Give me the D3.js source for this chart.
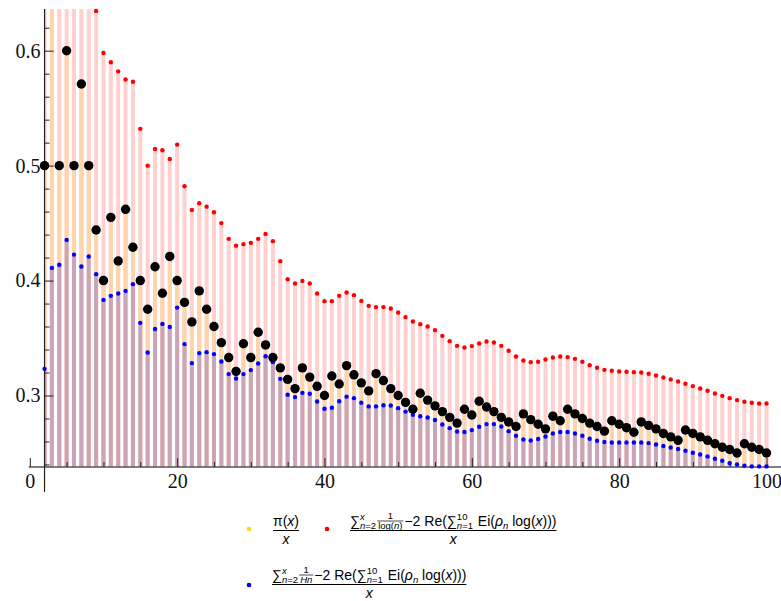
<!DOCTYPE html>
<html>
<head>
<meta charset="utf-8">
<script src="https://cdn.jsdelivr.net/npm/d3@7"></script>
<style>
  body { margin: 0; background: #fff; }
  text { white-space: pre; }
  .tick text { font-family: "Liberation Serif", "DejaVu Serif", serif; }
</style>
</head>
<body>
<svg width="781" height="601"></svg>
<script>
// x values: n = 2 .. 100
const ns = d3.range(2, 101);

// pi(x)/x
const primeRatio = [
  0.5, 0.667, 0.5, 0.6, 0.5, 0.571, 0.5, 0.444, 0.4,
  0.455, 0.417, 0.462, 0.429, 0.4, 0.375, 0.412, 0.389, 0.421, 0.4,
  0.381, 0.364, 0.391, 0.375, 0.36, 0.346, 0.333, 0.321, 0.345, 0.333,
  0.355, 0.344, 0.333, 0.324, 0.314, 0.306, 0.324, 0.316, 0.308, 0.3,
  0.317, 0.31, 0.326, 0.318, 0.311, 0.304, 0.319, 0.313, 0.306, 0.3,
  0.294, 0.288, 0.302, 0.296, 0.291, 0.286, 0.281, 0.276, 0.288, 0.283,
  0.295, 0.29, 0.286, 0.281, 0.277, 0.273, 0.284, 0.279, 0.275, 0.271,
  0.282, 0.278, 0.288, 0.284, 0.28, 0.276, 0.273, 0.269, 0.278, 0.275,
  0.272, 0.268, 0.277, 0.274, 0.271, 0.267, 0.264, 0.261, 0.27, 0.267,
  0.264, 0.261, 0.258, 0.255, 0.253, 0.25, 0.258, 0.255, 0.253, 0.25
];

// sum 1/log(n) - 2 Re(sum Ei(rho log x)), over x  (first values are above the plot)
const redVals = [
  0.75, 0.73, 0.71, 0.69, 0.68, 0.665, 0.65, 0.6345, 0.598,
  0.590, 0.582, 0.575, 0.573, 0.532, 0.500, 0.5145, 0.5134, 0.5058, 0.5183,
  0.482, 0.4615, 0.4673, 0.4643, 0.4595, 0.450, 0.4363, 0.4304, 0.4317, 0.4328,
  0.4363, 0.4406, 0.4343, 0.4169, 0.4012, 0.3974, 0.3997, 0.3974, 0.3887, 0.3821,
  0.3821, 0.3867, 0.3896, 0.3873, 0.3823, 0.378, 0.3769, 0.3769, 0.3757, 0.3722,
  0.3682, 0.3644, 0.3621, 0.36, 0.3569, 0.3519, 0.3473, 0.3432, 0.3417, 0.343,
  0.3452, 0.347, 0.3461, 0.3432, 0.3389, 0.3339, 0.3304, 0.329, 0.3293, 0.3313,
  0.333, 0.3339, 0.3334, 0.3319, 0.3293, 0.3264, 0.3241, 0.3223, 0.3215, 0.3209,
  0.3206, 0.3203, 0.32, 0.3189, 0.3174, 0.3157, 0.314, 0.3122, 0.3102, 0.3082,
  0.3061, 0.3041, 0.3018, 0.2997, 0.2977, 0.296, 0.2945, 0.2937, 0.293, 0.293
];

// sum 1/H_n - 2 Re(sum Ei(rho log x)), over x
const blueVals = [
  0.3232, 0.411, 0.4137, 0.4354, 0.4226, 0.4122, 0.4209, 0.4056, 0.3832,
  0.3867, 0.3887, 0.391, 0.3969, 0.3632, 0.3374, 0.3579, 0.3623, 0.3597, 0.3765,
  0.3447, 0.3282, 0.3369, 0.3377, 0.336, 0.3296, 0.3186, 0.3148, 0.3186, 0.3221,
  0.3278, 0.3342, 0.329, 0.3145, 0.3006, 0.2986, 0.3023, 0.3015, 0.2948, 0.2885,
  0.2893, 0.295, 0.299, 0.2977, 0.2938, 0.2905, 0.2905, 0.2915, 0.2913, 0.289,
  0.286, 0.2832, 0.2819, 0.2808, 0.2787, 0.2748, 0.2716, 0.2687, 0.2682, 0.2699,
  0.2728, 0.2751, 0.2751, 0.273, 0.269, 0.265, 0.2617, 0.2609, 0.2621, 0.2643,
  0.267, 0.2682, 0.2682, 0.267, 0.265, 0.2624, 0.2606, 0.2595, 0.2591, 0.2591,
  0.2591, 0.2591, 0.2591, 0.2586, 0.2574, 0.256, 0.2548, 0.2534, 0.2519, 0.2502,
  0.2487, 0.247, 0.245, 0.2432, 0.2412, 0.24, 0.2389, 0.2383, 0.2383, 0.2383
];

const xMajor = [0, 20, 40, 60, 80, 100];
const xMinor = d3.range(5, 100, 5).filter(v => v % 20 !== 0);
const yMajor = [0.3, 0.4, 0.5, 0.6];
const yMinor = [0.24, 0.26, 0.28, 0.32, 0.34, 0.36, 0.38, 0.42, 0.44, 0.46, 0.48, 0.52, 0.54, 0.56, 0.58, 0.62];

const width = 781;
const svg = d3.select('svg');

const x = d3.scaleLinear().domain([0, 100]).range([29.8, 766.5]);
const y = d3.scaleLinear().domain([0.3, 0.6]).range([395.5, 50.7]);
const yBottom = 467, yTop = 9;
const axisX = x(2);
const vLow = y.invert(yBottom + 3), vHigh = y.invert(yTop);

svg.append('defs').append('clipPath').attr('id', 'plot')
  .append('rect')
  .attr('x', axisX).attr('y', yTop)
  .attr('width', width - axisX).attr('height', yBottom - yTop);

function bars(vals, color) {
  svg.append('g')
    .attr('clip-path', 'url(#plot)')
    .selectAll('rect')
    .data(ns)
    .join('rect')
    .attr('x', n => x(n) - 2)
    .attr('width', 4)
    .attr('y', (n, i) => y(vals[i]))
    .attr('height', (n, i) => Math.max(0, yBottom - y(vals[i])))
    .attr('fill', color);
}

bars(redVals, '#ffd0d0');
bars(primeRatio, '#ffd4aa');
bars(blueVals, '#cca4b8');

// axes
const axes = svg.append('g');
axes.append('line')
  .attr('x1', x(0) - 1).attr('x2', width).attr('y1', yBottom).attr('y2', yBottom)
  .attr('stroke', '#555').attr('stroke-width', 1.6);
axes.append('line')
  .attr('x1', axisX).attr('x2', axisX).attr('y1', yTop).attr('y2', 492)
  .attr('stroke', '#222').attr('stroke-width', 1.2);

const xAxis = d3.axisBottom(x).tickValues(xMajor).tickSize(-9).tickSizeOuter(0).tickPadding(7);
const gx = axes.append('g').attr('transform', `translate(0,${yBottom})`).call(xAxis);
const gxm = axes.append('g').attr('transform', `translate(0,${yBottom})`)
  .call(d3.axisBottom(x).tickValues(xMinor).tickSize(-5).tickSizeOuter(0).tickFormat(''));

const yAxis = d3.axisLeft(y).tickValues(yMajor).tickSize(-9).tickSizeOuter(0).tickPadding(4)
  .tickFormat(d3.format('.1f'));
const gy = axes.append('g').attr('transform', `translate(${axisX},0)`).call(yAxis);
const gym = axes.append('g').attr('transform', `translate(${axisX},0)`)
  .call(d3.axisLeft(y).tickValues(yMinor).tickSize(-5).tickSizeOuter(0).tickFormat(''));

[gx, gxm, gy, gym].forEach(g => {
  g.attr('font-family', null).attr('font-size', null);
  g.select('.domain').remove();
  g.selectAll('line').attr('stroke', '#222');
  g.selectAll('text')
    .style('font-family', '"Liberation Serif", "DejaVu Serif", serif')
    .style('font-size', '20px')
    .attr('fill', '#111');
});

// points
function dots(vals, r, color) {
  svg.append('g')
    .selectAll('circle')
    .data(ns.filter((n, i) => vals[i] >= vLow && vals[i] <= vHigh))
    .join('circle')
    .attr('cx', n => x(n))
    .attr('cy', n => y(vals[ns.indexOf(n)]))
    .attr('r', r)
    .attr('fill', color);
}
dots(redVals, 2.2, '#ff0000');
dots(blueVals, 2.2, '#0000ff');
dots(primeRatio, 4.7, '#000');

// legend
const legend = svg.append('g')
  .attr('font-family', '"Liberation Sans", Arial, sans-serif')
  .attr('fill', '#000');

const big = 14, small = 9.5;

function run(g, x0, y0, parts, size) {
  const t = g.append('text').attr('x', x0).attr('y', y0).attr('font-size', size);
  parts.forEach(p => t.append('tspan').attr('font-style', p[1] ? 'italic' : null).text(p[0]));
  return t.node().getComputedTextLength();
}

function formula(g, x0, y0, items) {
  let cx = x0;
  items.forEach(it => {
    if (it.stack) {
      const w1 = run(g, cx, y0 - 6.5, it.stack[0], small);
      const w2 = run(g, cx, y0 + 3, it.stack[1], small);
      cx += Math.max(w1, w2) + 1;
    } else if (it.frac) {
      const tn = g.append('g'), td = g.append('g');
      const wn = run(tn, 0, y0 - 7.5, it.frac[0], small);
      const wd = run(td, 0, y0 + 3, it.frac[1], small);
      const w = Math.max(wn, wd) + 2;
      tn.attr('transform', `translate(${cx + (w - wn) / 2},0)`);
      td.attr('transform', `translate(${cx + (w - wd) / 2},0)`);
      g.append('line').attr('x1', cx).attr('x2', cx + w)
        .attr('y1', y0 - 5).attr('y2', y0 - 5)
        .attr('stroke', '#000').attr('stroke-width', 0.7);
      cx += w + 1;
    } else if (it.sub) {
      cx += run(g, cx, y0 + 3, it.sub, small);
    } else {
      cx += run(g, cx, y0, it.t, it.size || big);
    }
  });
  return cx - x0;
}

function entry(dotX, dotY, color, x0, base, items) {
  legend.append('circle').attr('cx', dotX).attr('cy', dotY).attr('r', 2.3).attr('fill', color);
  const g = legend.append('g');
  const w = formula(g, x0, base, items);
  g.append('line').attr('x1', x0).attr('x2', x0 + w)
    .attr('y1', base + 4.5).attr('y2', base + 4.5)
    .attr('stroke', '#000').attr('stroke-width', 1);
  const tx = g.append('text').attr('y', base + 17.5).attr('font-size', big)
    .attr('font-style', 'italic').text('x');
  const wx = tx.node().getComputedTextLength();
  tx.attr('x', x0 + (w - wx) / 2);
}

const tail = [
  { t: [['\u22122 Re(', 0]] },
  { t: [['\u2211', 0]] },
  { stack: [[['10', 0]], [['n', 1], ['=1', 0]]] },
  { t: [[' Ei(', 0], ['\u03c1', 1]] },
  { sub: [['n', 1]] },
  { t: [[' log(', 0], ['x', 1], [')))', 0]] }
];

entry(249, 529, '#f5e000', 273, 526, [{ t: [['\u03c0(', 0], ['x', 1], [')', 0]] }]);

entry(327, 529, '#ff0000', 350, 526, [
  { t: [['\u2211', 0]] },
  { stack: [[['x', 1]], [['n', 1], ['=2', 0]]] },
  { frac: [[['1', 0]], [['log(', 0], ['n', 1], [')', 0]]] }
].concat(tail));

entry(249, 585, '#0000ff', 272, 580, [
  { t: [['\u2211', 0]] },
  { stack: [[['x', 1]], [['n', 1], ['=2', 0]]] },
  { frac: [[['1', 0]], [['H', 1], ['n', 1]]] }
].concat(tail));
</script>
</body>
</html>
